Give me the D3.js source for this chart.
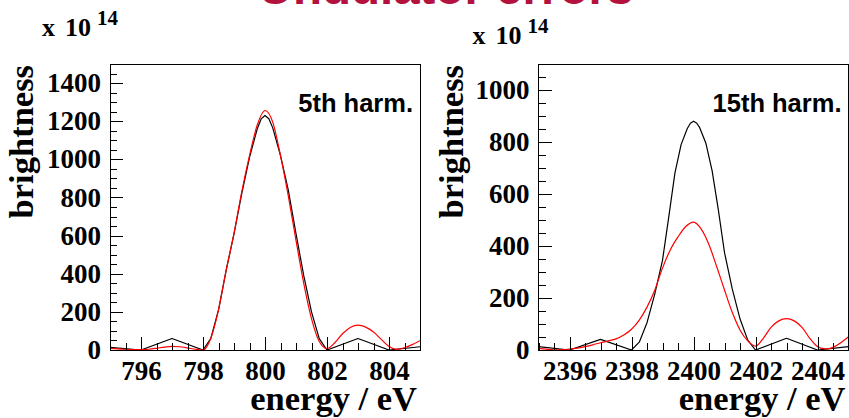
<!DOCTYPE html>
<html><head><meta charset="utf-8">
<script src="https://cdn.jsdelivr.net/npm/d3@7"></script>
<style>body{margin:0;background:#fff}svg{display:block}</style>
</head><body>
<svg id="chart" width="849" height="418"></svg>
<script>
// ---------------- data ----------------
const titleText = "Undulator errors";
const xTitle = "energy / eV";
const yTitle = "brightness";
const expBase = "10";
const expPow = "14";

// 5th harmonic
const h5Label = "5th harm.";
const h5XDomain = [795, 805];
const h5YDomain = [0, 1500];
const h5XTicks = [796, 798, 800, 802, 804];
const h5YTicks = [0, 200, 400, 600, 800, 1000, 1200, 1400];
const h5BlackE = [795, 796, 797, 798, 798.25, 798.5, 798.75, 799, 799.25, 799.5, 799.75, 799.875, 800, 800.125, 800.25, 800.5, 800.75, 801, 801.25, 801.5, 801.75, 802, 803, 804, 805];
const h5BlackB = [14, 0, 60, 0, 60, 210, 420, 610, 820, 1010, 1160, 1212, 1230, 1213, 1165, 1020, 840, 610, 390, 200, 60, 0, 60, 0, 17];
const h5RedE = [795, 795.25, 795.5, 795.75, 796, 796.25, 796.5, 796.75, 797, 797.25, 797.5, 797.75, 798, 798.25, 798.5, 798.75, 799, 799.25, 799.5, 799.75, 800, 800.25, 800.5, 800.75, 801, 801.25, 801.5, 801.75, 802, 802.25, 802.5, 802.75, 803, 803.25, 803.5, 803.75, 804, 804.25, 804.5, 804.75, 805];
const h5RedB = [9, 6, 4, 2.5, 2, 4, 9, 15, 19, 17, 11, 4, 0, 60, 210, 420, 610, 830, 1020, 1180, 1256, 1195, 1020, 810, 575, 350, 165, 45, 8, 38, 85, 118, 130, 120, 94, 56, 18, 3, 12, 28, 49];

// 15th harmonic
const h15Label = "15th harm.";
const h15XDomain = [2395, 2405];
const h15YDomain = [0, 1100];
const h15XTicks = [2396, 2398, 2400, 2402, 2404];
const h15YTicks = [0, 200, 400, 600, 800, 1000];
const h15BlackE = [2395, 2396, 2397, 2398, 2398.25, 2398.5, 2398.75, 2399, 2399.2, 2399.4, 2399.6, 2399.8, 2399.9, 2400, 2400.1, 2400.2, 2400.4, 2400.6, 2400.8, 2401, 2401.25, 2401.5, 2401.75, 2402, 2403, 2404, 2405];
const h15BlackB = [13, 0, 41, 0, 30, 105, 215, 345, 510, 680, 790, 852, 872, 880, 873, 855, 795, 690, 540, 375, 235, 120, 38, 0, 45, 0, 13];
const h15RedE = [2395, 2395.25, 2395.5, 2395.75, 2396, 2396.25, 2396.5, 2396.75, 2397, 2397.25, 2397.5, 2397.75, 2398, 2398.25, 2398.5, 2398.75, 2399, 2399.25, 2399.5, 2399.75, 2400, 2400.25, 2400.5, 2400.75, 2401, 2401.25, 2401.5, 2401.75, 2402, 2402.25, 2402.5, 2402.75, 2403, 2403.25, 2403.5, 2403.75, 2404, 2404.25, 2404.5, 2404.75, 2405];
const h15RedB = [6, 3, 1, 1, 3, 7, 13, 20, 28, 35, 43, 58, 80, 115, 165, 230, 315, 385, 435, 475, 492, 465, 405, 320, 231, 145, 77, 35, 15, 45, 87, 112, 121, 112, 87, 45, 13, 4, 10, 28, 51];

// ---------------- drawing ----------------
const svg = d3.select("#chart");
const serif = "'Liberation Serif','Times New Roman',Times,serif";
const sans = "'Liberation Sans',Arial,Helvetica,sans-serif";

svg.append("text")
  .attr("x", 446).attr("y", 3.5)
  .attr("text-anchor", "middle")
  .attr("font-family", sans).attr("font-weight", "bold")
  .attr("font-size", 47.5).attr("fill", "#b3123e")
  .text(titleText);

const panels = [
  {id: "p5", x0: 110, x1: 420, y0: 64, y1: 350, xd: h5XDomain, yd: h5YDomain, xt: h5XTicks, yt: h5YTicks,
   black: [h5BlackE, h5BlackB], red: [h5RedE, h5RedB], label: h5Label, expX: 42, expY: 36, ytitleX: 32.5},
  {id: "p15", x0: 538.5, x1: 848.5, y0: 64, y1: 350, xd: h15XDomain, yd: h15YDomain, xt: h15XTicks, yt: h15YTicks,
   black: [h15BlackE, h15BlackB], red: [h15RedE, h15RedB], label: h15Label, expX: 472.5, expY: 43.5, ytitleX: 462.5}
];

panels.forEach(p => {
  const x = d3.scaleLinear().domain(p.xd).range([p.x0, p.x1]);
  const y = d3.scaleLinear().domain(p.yd).range([p.y1, p.y0]);
  const g = svg.append("g");

  g.append("clipPath").attr("id", "clip" + p.id)
    .append("rect").attr("x", p.x0).attr("y", p.y0)
    .attr("width", p.x1 - p.x0).attr("height", p.y1 - p.y0);

  const lin = d3.line().x(d => x(d[0])).y(d => y(d[1])).curve(d3.curveLinear);
  const smooth = d3.line().x(d => x(d[0])).y(d => y(d[1])).curve(d3.curveMonotoneX);
  const blackPts = p.black[0].map((e, i) => [e, p.black[1][i]]);
  const redPts = p.red[0].map((e, i) => [e, p.red[1][i]]);

  const cg = g.append("g").attr("clip-path", `url(#clip${p.id})`);
  cg.append("path").attr("d", lin(blackPts)).attr("fill", "none")
    .attr("stroke", "#000").attr("stroke-width", 1.2).attr("stroke-linejoin", "round");
  cg.append("path").attr("d", smooth(redPts)).attr("fill", "none")
    .attr("stroke", "#ff0000").attr("stroke-width", 1.2);

  // minor ticks
  const xMinor = d3.range(p.xd[0], p.xd[1] + 1e-9, 0.5);
  const yMinor = d3.range(p.yd[0], p.yd[1] + 1e-9, 50);
  const xm = g.append("g").attr("transform", `translate(0,${p.y1})`)
    .call(d3.axisBottom(x).tickValues(xMinor).tickSizeInner(-7).tickSizeOuter(0).tickFormat(""));
  const ym = g.append("g").attr("transform", `translate(${p.x0},0)`)
    .call(d3.axisLeft(y).tickValues(yMinor).tickSizeInner(-7).tickSizeOuter(0).tickFormat(""));
  // major ticks
  const xa = g.append("g").attr("transform", `translate(0,${p.y1})`)
    .call(d3.axisBottom(x).tickValues(p.xt).tickSizeInner(-13).tickSizeOuter(0).tickPadding(11).tickFormat(d3.format("d")));
  const ya = g.append("g").attr("transform", `translate(${p.x0},0)`)
    .call(d3.axisLeft(y).tickValues(p.yt).tickSizeInner(-13).tickSizeOuter(0).tickPadding(9).tickFormat(d3.format("d")));
  [xm, ym, xa, ya].forEach(a => {
    a.select(".domain").remove();
    a.selectAll("line").attr("stroke", "#000").attr("stroke-width", 1).attr("shape-rendering", "crispEdges");
    a.selectAll("text").attr("font-family", serif).attr("font-weight", "bold")
      .attr("font-size", 27).attr("fill", "#000");
  });

  // frame
  g.append("rect").attr("x", p.x0).attr("y", p.y0)
    .attr("width", p.x1 - p.x0).attr("height", p.y1 - p.y0)
    .attr("fill", "none").attr("stroke", "#000").attr("stroke-width", 1)
    .attr("shape-rendering", "crispEdges");

  // harmonic label
  g.append("text").attr("x", p.x1 - 7).attr("y", 112)
    .attr("text-anchor", "end").attr("font-family", sans).attr("font-weight", "bold")
    .attr("font-size", 25.5).attr("fill", "#000").text(p.label);

  // axis titles
  g.append("text").attr("x", p.x1 - 3).attr("y", 410)
    .attr("text-anchor", "end").attr("font-family", serif).attr("font-weight", "bold")
    .attr("font-size", 34.5).attr("fill", "#000").text(xTitle);
  g.append("text").attr("transform", `translate(${p.ytitleX},65) rotate(-90)`)
    .attr("text-anchor", "end").attr("font-family", serif).attr("font-weight", "bold")
    .attr("font-size", 34.5).attr("fill", "#000").text(yTitle);

  // exponent
  g.append("text").attr("x", p.expX).attr("y", p.expY)
    .attr("font-family", serif).attr("font-weight", "bold").attr("font-size", 26).attr("fill", "#000")
    .text("x");
  g.append("text").attr("x", p.expX + 23).attr("y", p.expY)
    .attr("font-family", serif).attr("font-weight", "bold").attr("font-size", 26).attr("fill", "#000")
    .text(expBase);
  g.append("text").attr("x", p.expX + 55).attr("y", p.expY - 11)
    .attr("font-family", serif).attr("font-weight", "bold").attr("font-size", 21).attr("fill", "#000")
    .text(expPow);
});
</script>
</body></html>
